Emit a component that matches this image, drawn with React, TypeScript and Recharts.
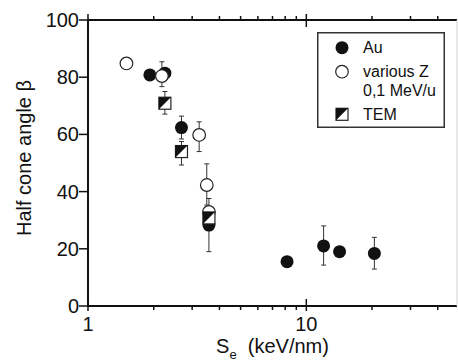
import { ScatterChart, Scatter, XAxis, YAxis, ErrorBar, Legend, Label } from 'recharts'

const FONT = '"Liberation Sans", Arial, Helvetica, sans-serif'

// electronic stopping S_e (keV/nm) vs half cone angle (deg)
const auS = [1.92, 2.25, 2.68, 3.58, 8.16, 12.0, 14.2, 20.5]
const auBeta = [80.8, 81.4, 62.4, 28.3, 15.5, 21.0, 19.0, 18.4]
const auErr = [null, null, [4, 4], [9.3, 9.3], null, [6.7, 7], null, [5.5, 5.6]]

const zS = [1.5, 2.18, 3.23, 3.5, 3.58]
const zBeta = [84.8, 80.4, 59.8, 42.3, 32.9]
const zErr = [null, [3.7, 5], [5.8, 4.6], [7, 7.4], null]

const temS = [2.25, 2.68, 3.58]
const temBeta = [70.9, 54.0, 30.8]
const temErr = [[3.8, 4.1], [4.7, 3.5], null]

const seriesNames = ['Au', 'various Z\n0,1 MeV/u', 'TEM']

const xTicks = [1, 2, 3, 4, 5, 6, 7, 8, 9, 10, 20, 30, 40]
const xMajor = [1, 10]
const yTicks = [0, 20, 40, 60, 80, 100]

const toRows = (xs: number[], ys: number[], errs: any[]) =>
  xs.map((x, i) => ({ x, y: ys[i], err: errs[i] }))

const auData = toRows(auS, auBeta, auErr)
const zData = toRows(zS, zBeta, zErr)
const temData = toRows(temS, temBeta, temErr)

const FilledDot = ({ cx, cy }: any) => <circle cx={cx} cy={cy} r={6.5} fill="#111" />

const OpenDot = ({ cx, cy }: any) => (
  <circle cx={cx} cy={cy} r={6.3} fill="#fff" stroke="#222" strokeWidth={1.2} />
)

const HalfSquare = ({ cx, cy }: any) => {
  const h = 6
  return (
    <g>
      <rect x={cx - h} y={cy - h} width={2 * h} height={2 * h} fill="#fff" stroke="#222" strokeWidth={1.2} />
      <path d={`M${cx - h},${cy - h}L${cx + h},${cy - h}L${cx - h},${cy + h}Z`} fill="#111" />
    </g>
  )
}

const BottomTick = ({ x, y, payload }: any) => {
  const major = xMajor.includes(payload.value)
  return (
    <g>
      <line x1={x} x2={x} y1={major ? y - 7 : y} y2={y + (major ? 5 : 4)} stroke="#111" strokeWidth={1.5} />
      {major && (
        <text x={x} y={y + 25} textAnchor="middle" fontSize={20} fontFamily={FONT} fill="#111">
          {payload.value}
        </text>
      )}
    </g>
  )
}

const TopTick = ({ x, y, payload }: any) => {
  const major = xMajor.includes(payload.value)
  return <line x1={x} x2={x} y1={y - (major ? 6 : 4)} y2={major ? y + 7 : y} stroke="#111" strokeWidth={1.5} />
}

const LeftTick = ({ x, y, payload }: any) => (
  <g>
    <line x1={x - 9} x2={x} y1={y} y2={y} stroke="#111" strokeWidth={1.5} />
    <text x={x - 9} y={y + 7} textAnchor="end" fontSize={20} fontFamily={FONT} fill="#111">
      {payload.value}
    </text>
  </g>
)

const RightTick = ({ x, y }: any) => <line x1={x - 5} x2={x} y1={y} y2={y} stroke="#333" strokeWidth={1.5} />

const XLabel = ({ viewBox }: any) => (
  <text x={viewBox.x + viewBox.width / 2} y={viewBox.y + 47} textAnchor="middle" fontSize={20} fontFamily={FONT} fill="#111">
    S
    <tspan fontSize={13} dy={6}>e</tspan>
    <tspan dy={-6}>{'\u00a0\u00a0(keV/nm)'}</tspan>
  </text>
)

const YLabel = ({ viewBox }: any) => {
  const cx = viewBox.x + 31
  const cy = viewBox.y + viewBox.height / 2 - 5
  return (
    <text x={cx} y={cy} transform={`rotate(-90 ${cx} ${cy})`} textAnchor="middle" fontSize={20} fontFamily={FONT} fill="#111">
      Half cone angle β
    </text>
  )
}

const legendRows = [15.7, 39.7, 82.3]
const legendShapes = [FilledDot, OpenDot, HalfSquare]

function LegendBox({ payload }: any) {
  const entries = [...(payload || [])].sort(
    (a: any, b: any) => seriesNames.indexOf(a.value) - seriesNames.indexOf(b.value)
  )
  return (
    <svg width={128} height={96} style={{ display: 'block' }}>
      <rect x={0.75} y={0.75} width={126.5} height={94.5} fill="#fff" stroke="#333" strokeWidth={1.5} />
      {entries.map((entry: any, i: number) => {
        const cy = legendRows[i]
        const Shape = legendShapes[seriesNames.indexOf(entry.value)]
        const lines = String(entry.value).split('\n')
        return (
          <g key={i}>
            {Shape && <Shape cx={25} cy={cy} />}
            <text x={46} y={cy + 5.5} fontSize={16} fontFamily={FONT} fill="#111">
              {lines.map((l, j) => (
                <tspan key={j} x={46} dy={j === 0 ? 0 : 19}>
                  {l}
                </tspan>
              ))}
            </text>
          </g>
        )
      })}
    </svg>
  )
}

export default function App() {
  return (
    <div style={{ position: 'absolute', left: 0, top: 0, width: 458, height: 362, background: '#fff' }}>
      <ScatterChart width={458} height={362} margin={{ top: 19, right: 0, bottom: 0, left: 0 }}>
        <XAxis
          type="number"
          dataKey="x"
          scale="log"
          domain={[1, 49]}
          allowDataOverflow
          ticks={xTicks}
          interval={0}
          height={56}
          tickSize={0}
          tickMargin={0}
          tickLine={false}
          axisLine={{ stroke: '#111', strokeWidth: 2 }}
          tick={BottomTick}
        >
          <Label content={XLabel} />
        </XAxis>
        <XAxis
          xAxisId="top"
          orientation="top"
          type="number"
          dataKey="x"
          scale="log"
          domain={[1, 49]}
          allowDataOverflow
          ticks={xTicks}
          interval={0}
          height={1}
          tickSize={0}
          tickMargin={0}
          tickLine={false}
          axisLine={{ stroke: '#111', strokeWidth: 2 }}
          tick={TopTick}
        />
        <YAxis
          type="number"
          dataKey="y"
          domain={[0, 100]}
          ticks={yTicks}
          interval={0}
          width={88}
          tickSize={0}
          tickMargin={0}
          tickLine={false}
          axisLine={{ stroke: '#111', strokeWidth: 2 }}
          tick={LeftTick}
        >
          <Label content={YLabel} />
        </YAxis>
        <YAxis
          yAxisId="r"
          orientation="right"
          type="number"
          domain={[0, 100]}
          ticks={yTicks}
          interval={0}
          width={1}
          tickSize={0}
          tickMargin={0}
          tickLine={false}
          axisLine={{ stroke: '#cfcfcf', strokeWidth: 1 }}
          tick={RightTick}
        />
        <Legend
          layout="vertical"
          align="center"
          verticalAlign="middle"
          wrapperStyle={{ left: 317, top: 32, width: 128, height: 96 }}
          content={LegendBox}
        />
        <Scatter name={seriesNames[0]} data={auData} shape={FilledDot} isAnimationActive={false}>
          <ErrorBar dataKey="err" direction="y" width={2.5} stroke="#333" strokeWidth={1} />
        </Scatter>
        <Scatter name={seriesNames[1]} data={zData} shape={OpenDot} isAnimationActive={false}>
          <ErrorBar dataKey="err" direction="y" width={2.5} stroke="#333" strokeWidth={1} />
        </Scatter>
        <Scatter name={seriesNames[2]} data={temData} shape={HalfSquare} isAnimationActive={false}>
          <ErrorBar dataKey="err" direction="y" width={2.5} stroke="#333" strokeWidth={1} />
        </Scatter>
      </ScatterChart>
    </div>
  )
}
